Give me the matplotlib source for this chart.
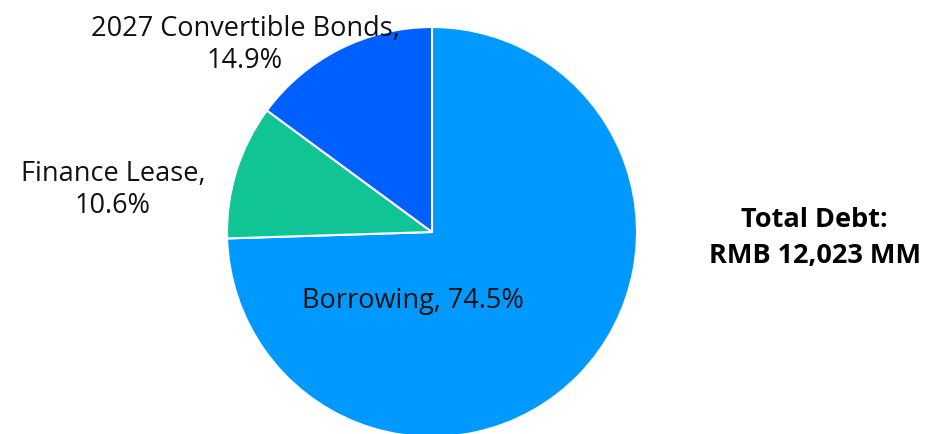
import matplotlib.pyplot as plt

# debt composition
categories = ["Borrowing", "Finance Lease", "2027 Convertible Bonds"]
shares = [74.5, 10.6, 14.9]
colors = ["#0099FF", "#10C495", "#005FFF"]
total_debt = "12,023"

plt.rcParams['font.family'] = ['Open Sans', 'DejaVu Sans']

fig = plt.figure(figsize=(9.28, 4.35), dpi=100)
ax = fig.add_axes([0, 0, 1, 1])

ax.pie(shares, colors=colors, startangle=90, counterclock=False, radius=1,
       wedgeprops=dict(edgecolor="white", linewidth=1.5))

# 205 px per unit, pie centre at (432, 233) px from top-left
ax.set_xlim(-432 / 205, (928 - 432) / 205)
ax.set_ylim(-(435 - 233) / 205, 233 / 205)
ax.set_aspect("auto")
ax.axis("off")

label_pos = [(-0.093, -0.332), (-1.556, 0.21), (-0.912, 0.917)]
for name, val, (x, y) in zip(categories, shares, label_pos):
    if name == "Borrowing":
        txt = f"{name}, {val}%"
    else:
        txt = f"{name},\n{val}%"
    ax.text(x, y, txt, ha="center", va="center", fontsize=19.5,
            linespacing=1.15, color="#111111")

fig.text(0.878, 0.453, f"Total Debt:\nRMB {total_debt} MM", ha="center",
         va="center", fontsize=19.5, fontweight="bold", linespacing=1.5)

fig.savefig("out.png", dpi=100)
